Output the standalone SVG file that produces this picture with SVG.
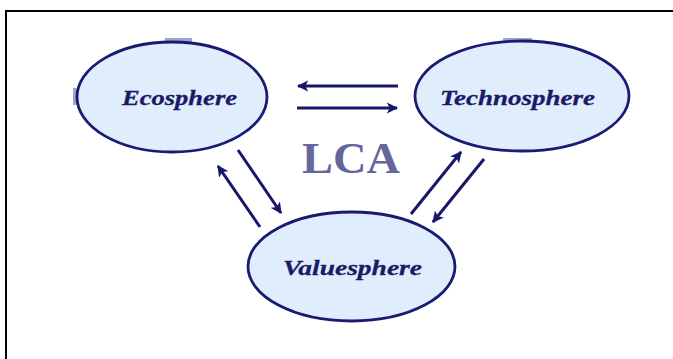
<svg xmlns="http://www.w3.org/2000/svg" width="673" height="359" viewBox="0 0 673 359">
  <style>
    .sphere { fill: #dfedfd; stroke: #1a1a72; stroke-width: 2.8; }
    .label { font-family: 'Liberation Serif', 'Times New Roman', serif; font-weight: 700; font-style: italic; font-size: 21.5px; fill: #1a1a66; stroke: #1a1a66; stroke-width: 0.3; }
    .title { font-family: 'Liberation Serif', 'Times New Roman', serif; font-weight: 700; font-size: 45px; fill: #66669e; }
    .flow { stroke: #16166c; stroke-width: 3; fill: none; marker-end: url(#head); }
    .tab { fill: #8c8cc0; opacity: 0.8; }
  </style>
  <defs>
    <marker id="head" viewBox="0 0 10 10" refX="9" refY="5" markerWidth="3.8" markerHeight="3.8" orient="auto" markerUnits="strokeWidth">
      <path d="M0,0 L10,5 L0,10 L2.5,5 Z" fill="#16166c"/>
    </marker>
  </defs>

  <rect width="673" height="359" fill="#ffffff"/>
  <!-- page frame, open at right and bottom -->
  <rect x="6" y="11" width="700" height="400" fill="none" stroke="#000000" stroke-width="2"/>

  <g id="ecosphere">
    <rect class="tab" x="165" y="38" width="27" height="4"/>
    <rect class="tab" x="73" y="88" width="4" height="17"/>
    <ellipse class="sphere" cx="172" cy="97" rx="95" ry="55"/>
    <text class="label" x="179.5" y="105" text-anchor="middle" textLength="115" lengthAdjust="spacingAndGlyphs">Ecosphere</text>
  </g>

  <g id="technosphere">
    <rect class="tab" x="503" y="38" width="29" height="4"/>
    <ellipse class="sphere" cx="522" cy="96" rx="107" ry="55"/>
    <text class="label" x="517.5" y="105" text-anchor="middle" textLength="155" lengthAdjust="spacingAndGlyphs">Technosphere</text>
  </g>

  <g id="valuesphere">
    <ellipse class="sphere" cx="351.5" cy="266.5" rx="103.5" ry="54.5"/>
    <text class="label" x="352.5" y="275" text-anchor="middle" textLength="139" lengthAdjust="spacingAndGlyphs">Valuesphere</text>
  </g>

  <g id="title">
    <text class="title" x="351" y="173" text-anchor="middle" textLength="98" lengthAdjust="spacingAndGlyphs">LCA</text>
  </g>

  <g id="connectors">
    <line class="flow" x1="398" y1="86" x2="298" y2="86"/>
    <line class="flow" x1="297" y1="108" x2="397" y2="108"/>
    <line class="flow" x1="238" y1="150" x2="281" y2="213"/>
    <line class="flow" x1="260" y1="227" x2="218" y2="166"/>
    <line class="flow" x1="411" y1="214" x2="461" y2="152"/>
    <line class="flow" x1="484" y1="159" x2="433" y2="222"/>
  </g>
</svg>
